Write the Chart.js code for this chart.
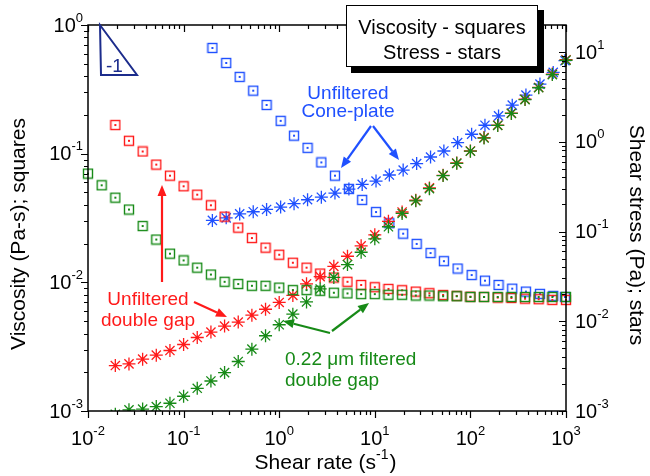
<!DOCTYPE html>
<html>
<head>
<meta charset="utf-8">
<script src="https://cdn.jsdelivr.net/npm/chart.js@4.4.0/dist/chart.umd.min.js"></script>
<style>
  html, body { margin: 0; padding: 0; background: #fff; }
  #wrap { width: 650px; height: 476px; position: relative; }
</style>
</head>
<body>
<div id="wrap"><canvas id="myChart"></canvas></div>
<script>
// shear rates of the double gap runs (s^-1)
const rateGap = [
  0.01, 0.01389, 0.01931, 0.02683, 0.03728, 0.05179, 0.07197, 0.1, 0.1389, 0.1931,
  0.2683, 0.3728, 0.5179, 0.7197, 1, 1.389, 1.931, 2.683, 3.728, 5.179,
  7.197, 10, 13.89, 19.31, 26.83, 37.28, 51.79, 71.97, 100, 138.9,
  193.1, 268.3, 372.8, 517.9, 719.7, 1000
]
// shear rates of the cone-plate run
const rateCone = [
  0.2, 0.279, 0.386, 0.535, 0.738, 1.035, 1.43, 1.98, 2.76, 3.83,
  5.36, 7.38, 10.3, 14.2, 19.8, 27.4, 38.3, 52.8, 73.5, 103,
  142, 197, 274, 381, 534, 735, 975
]

// unfiltered double gap (starts at the 3rd rate)
const viscRed = [
  0.167, 0.126, 0.104, 0.0822, 0.0675, 0.0558, 0.048, 0.0397, 0.0324, 0.0266,
  0.0221, 0.0186, 0.0164, 0.0142, 0.0130, 0.0117, 0.0109, 0.0101, 0.00954, 0.00916,
  0.00889, 0.00868, 0.00847, 0.00823, 0.00798, 0.00784, 0.00774, 0.00770, 0.00761, 0.00756,
  0.00747, 0.00739, 0.00730, 0.00730
]
const stressRed = [
  0.00321, 0.00335, 0.00378, 0.00419, 0.00472, 0.00551, 0.00659, 0.00757, 0.00883, 0.0098,
  0.0117, 0.0136, 0.0162, 0.0194, 0.0261, 0.0314, 0.0409, 0.0530, 0.0692, 0.0918,
  0.130, 0.165, 0.223, 0.306, 0.423, 0.580, 0.789, 1.114, 1.528, 2.08,
  2.98, 4.03, 5.68, 8.2
]

// 0.22 um filtered double gap
const viscGreen = [
  0.070, 0.0568, 0.0455, 0.0368, 0.0274, 0.0215, 0.0167, 0.0148, 0.0130, 0.0115,
  0.0101, 0.0097, 0.0094, 0.0094, 0.0091, 0.0087, 0.0087, 0.0086, 0.0083, 0.0082,
  0.0081, 0.0081, 0.0080, 0.0080, 0.0079, 0.0079, 0.0078, 0.0078, 0.0077, 0.0077,
  0.0077, 0.0077, 0.0077, 0.0077, 0.0077, 0.0077
]
// starts at the 3rd rate
const stressGreen = [
  0.00092, 0.00103, 0.00105, 0.00112, 0.00122, 0.00146, 0.00179, 0.00216, 0.00268, 0.00356,
  0.00489, 0.00689, 0.00914, 0.0120, 0.0164, 0.0229, 0.0308, 0.0428, 0.0587, 0.0829,
  0.113, 0.159, 0.220, 0.300, 0.420, 0.575, 0.785, 1.10, 1.52, 2.07,
  2.95, 4.0, 5.6, 8.1
]

// unfiltered cone-plate
const viscBlue = [
  0.663, 0.507, 0.395, 0.309, 0.239, 0.180, 0.138, 0.111, 0.0855, 0.0675,
  0.0532, 0.0437, 0.0352, 0.0288, 0.0239, 0.0199, 0.0169, 0.0146, 0.0128, 0.0114,
  0.0103, 0.00954, 0.00893, 0.00847, 0.00813, 0.00784, 0.00770
]
const stressBlue = [
  0.133, 0.142, 0.157, 0.166, 0.176, 0.187, 0.204, 0.226, 0.241, 0.268,
  0.297, 0.335, 0.365, 0.426, 0.484, 0.571, 0.676, 0.789, 0.979, 1.213,
  1.528, 1.941, 2.557, 3.31, 4.39, 5.93, 8.0
]

const RED = '#ff1a1a'
const GREEN = '#178a17'
const BLUE = '#1f50ff'
const NAVY = '#1c2c8c'
const FONT = '"Liberation Sans", Arial, sans-serif'

function pts(xs, ys) {
  return ys.map((y, i) => ({ x: xs[i], y: y }))
}

// hollow square with a dot in the middle
function squareMarker(color) {
  const c = document.createElement('canvas')
  c.width = 12
  c.height = 12
  const g = c.getContext('2d')
  g.strokeStyle = color
  g.lineWidth = 1.4
  g.strokeRect(1.5, 1.5, 9, 9)
  g.fillStyle = color
  g.fillRect(5, 5, 2, 2)
  return c
}

const clipArea = { left: 12, top: 12, right: 12, bottom: 0 }

function squares(data, color) {
  return {
    data: data, yAxisID: 'y', showLine: false, clip: clipArea,
    pointStyle: squareMarker(color), pointRadius: 6, borderColor: color, backgroundColor: color
  }
}
function stars(data, color) {
  return {
    data: data, yAxisID: 'y2', showLine: false, clip: clipArea,
    pointStyle: 'star', pointRadius: 6.5, borderWidth: 1.3, borderColor: color, backgroundColor: color
  }
}

function drawPow(ctx, exp, x, y, align) {
  ctx.font = '20px ' + FONT
  const wBase = ctx.measureText('10').width
  ctx.font = '13px ' + FONT
  const wExp = ctx.measureText(exp).width
  const total = wBase + wExp
  let x0 = x
  if (align === 'right') x0 = x - total
  if (align === 'center') x0 = x - total / 2
  ctx.textAlign = 'left'
  ctx.textBaseline = 'middle'
  ctx.font = '20px ' + FONT
  ctx.fillText('10', x0, y)
  ctx.font = '13px ' + FONT
  ctx.fillText(exp, x0 + wBase, y - 8)
}

function arrow(ctx, x1, y1, x2, y2, color) {
  const a = Math.atan2(y2 - y1, x2 - x1)
  const L = 11, W = 4.5
  const bx = x2 - L * Math.cos(a), by = y2 - L * Math.sin(a)
  ctx.strokeStyle = color
  ctx.fillStyle = color
  ctx.lineWidth = 2.2
  ctx.beginPath()
  ctx.moveTo(x1, y1)
  ctx.lineTo(bx, by)
  ctx.stroke()
  ctx.beginPath()
  ctx.moveTo(x2, y2)
  ctx.lineTo(bx + W * Math.sin(a), by - W * Math.cos(a))
  ctx.lineTo(bx - W * Math.sin(a), by + W * Math.cos(a))
  ctx.closePath()
  ctx.fill()
}

// frame, log ticks, labels and notes
const decorations = {
  id: 'decorations',
  afterDraw(chart) {
    const ctx = chart.ctx
    const a = chart.chartArea
    const xs = chart.scales.x, ys = chart.scales.y, ys2 = chart.scales.y2
    ctx.save()
    ctx.strokeStyle = '#000'
    ctx.fillStyle = '#000'
    ctx.lineWidth = 1.5
    ctx.strokeRect(a.left, a.top, a.right - a.left, a.bottom - a.top)

    ctx.lineWidth = 1.2
    ctx.beginPath()
    // x: outward at the bottom, inward at the top
    for (let d = -2; d <= 3; d++) {
      for (let m = 1; m <= 9; m++) {
        const v = m * Math.pow(10, d)
        if (v > 1000.001) break
        const px = Math.round(xs.getPixelForValue(v)) + 0.5
        const len = m === 1 ? 7 : 4
        ctx.moveTo(px, a.bottom); ctx.lineTo(px, a.bottom + len)
        ctx.moveTo(px, a.top); ctx.lineTo(px, a.top + len)
      }
    }
    // left viscosity axis, outward
    for (let d = -3; d <= 0; d++) {
      for (let m = 1; m <= 9; m++) {
        const v = m * Math.pow(10, d)
        if (v > 1.0001) break
        const py = Math.round(ys.getPixelForValue(v)) + 0.5
        const len = m === 1 ? 7 : 4
        ctx.moveTo(a.left, py); ctx.lineTo(a.left - len, py)
      }
    }
    // right stress axis, inward
    for (let d = -3; d <= 1; d++) {
      for (let m = 1; m <= 9; m++) {
        const v = m * Math.pow(10, d)
        if (v > 20.001) break
        const py = Math.round(ys2.getPixelForValue(v)) + 0.5
        const len = m === 1 ? 7 : 4
        ctx.moveTo(a.right, py); ctx.lineTo(a.right - len, py)
      }
    }
    ctx.stroke()

    for (let d = -2; d <= 3; d++) drawPow(ctx, String(d), xs.getPixelForValue(Math.pow(10, d)), a.bottom + 28, 'center')
    for (let d = -3; d <= 0; d++) drawPow(ctx, String(d), a.left - 5, ys.getPixelForValue(Math.pow(10, d)) + 1, 'right')
    for (let d = -3; d <= 1; d++) drawPow(ctx, String(d), a.right + 9, ys2.getPixelForValue(Math.pow(10, d)) + 1, 'left')

    // axis titles
    ctx.font = '21px ' + FONT
    ctx.textAlign = 'center'
    ctx.textBaseline = 'middle'
    ctx.save()
    ctx.translate(19, 234)
    ctx.rotate(-Math.PI / 2)
    ctx.fillText('Viscosity (Pa-s); squares', 0, 0)
    ctx.restore()
    ctx.save()
    ctx.translate(636, 235)
    ctx.rotate(Math.PI / 2)
    ctx.fillText('Shear stress (Pa); stars', 0, 0)
    ctx.restore()

    const t1 = 'Shear rate (s', t2 = '-1', t3 = ')'
    ctx.font = '21px ' + FONT
    const w1 = ctx.measureText(t1).width, w3 = ctx.measureText(t3).width
    ctx.font = '14px ' + FONT
    const w2 = ctx.measureText(t2).width
    let tx = 325 - (w1 + w2 + w3) / 2
    ctx.textAlign = 'left'
    ctx.font = '21px ' + FONT
    ctx.fillText(t1, tx, 463)
    ctx.font = '14px ' + FONT
    ctx.fillText(t2, tx + w1, 455)
    ctx.font = '21px ' + FONT
    ctx.fillText(t3, tx + w1 + w2 + 1, 463)

    // key box with drop shadow
    ctx.fillStyle = '#000'
    ctx.fillRect(351, 10, 193, 63)
    ctx.fillStyle = '#fff'
    ctx.fillRect(346, 5, 192, 62)
    ctx.lineWidth = 1
    ctx.strokeStyle = '#000'
    ctx.strokeRect(346.5, 5.5, 191, 61)
    ctx.fillStyle = '#000'
    ctx.font = '20px ' + FONT
    ctx.textAlign = 'center'
    ctx.fillText('Viscosity - squares', 442, 28)
    ctx.fillText('Stress - stars', 442, 53)

    // slope triangle
    ctx.strokeStyle = NAVY
    ctx.lineWidth = 2
    ctx.beginPath()
    ctx.moveTo(100, 25)
    ctx.lineTo(101, 75)
    ctx.lineTo(137, 75)
    ctx.closePath()
    ctx.stroke()
    ctx.fillStyle = NAVY
    ctx.font = '19px ' + FONT
    ctx.textAlign = 'left'
    ctx.fillText('-1', 106, 67)

    // notes
    ctx.textAlign = 'center'
    ctx.font = '19px ' + FONT
    ctx.fillStyle = BLUE
    ctx.fillText('Unfiltered', 348, 94)
    ctx.fillText('Cone-plate', 348, 112)
    arrow(ctx, 371, 126, 341, 168, BLUE)
    arrow(ctx, 373, 126, 399, 160, BLUE)

    ctx.textAlign = 'center'
    ctx.font = '19px ' + FONT
    ctx.fillStyle = RED
    ctx.fillText('Unfiltered', 148, 300)
    ctx.fillText('double gap', 148, 321)
    arrow(ctx, 162, 282, 162, 185, RED)
    arrow(ctx, 194, 302, 227, 317, RED)

    ctx.textAlign = 'left'
    ctx.font = '19px ' + FONT
    ctx.fillStyle = GREEN
    ctx.fillText('0.22 \u03bcm filtered', 285, 360)
    ctx.fillText('double gap', 285, 381)
    arrow(ctx, 330, 333, 283, 321, GREEN)
    arrow(ctx, 332, 331, 369, 303, GREEN)

    ctx.restore()
  }
}

const config = {
  type: 'scatter',
  data: {
    datasets: [
      stars(pts(rateGap.slice(2), stressGreen), GREEN),
      squares(pts(rateGap, viscGreen), GREEN),
      stars(pts(rateGap.slice(2), stressRed), RED),
      squares(pts(rateGap.slice(2), viscRed), RED),
      stars(pts(rateCone, stressBlue), BLUE),
      squares(pts(rateCone, viscBlue), BLUE)
    ]
  },
  options: {
    responsive: true,
    maintainAspectRatio: false,
    animation: false,
    layout: { padding: { left: 88, right: 84, top: 25, bottom: 65 } },
    plugins: { legend: { display: false }, tooltip: { enabled: false } },
    scales: {
      x: { type: 'logarithmic', min: 0.01, max: 1000, display: false },
      y: { type: 'logarithmic', min: 0.001, max: 1, display: false },
      y2: { type: 'logarithmic', position: 'right', min: 0.001, max: 20, display: false }
    }
  },
  plugins: [decorations]
}

const chart = new Chart(document.getElementById('myChart'), config)
</script>
</body>
</html>
